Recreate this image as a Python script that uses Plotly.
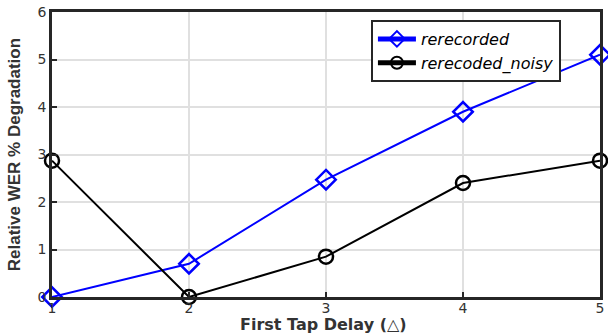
import plotly.graph_objects as go

delays = [1, 2, 3, 4, 5]
rerecorded = [0.0, 0.7, 2.47, 3.9, 5.1]
rerecoded_noisy = [2.87, 0.0, 0.85, 2.4, 2.87]
y_ticks = [0, 1, 2, 3, 4, 5, 6]
x_title = "First Tap Delay (△)"
y_title = "Relative WER % Degradation"

fig = go.Figure()
fig.add_trace(go.Scatter(
    x=delays, y=rerecorded, name="rerecorded", mode="lines+markers",
    line=dict(color="#0000ff", width=2),
    marker=dict(symbol="diamond-open", size=15, color="#0000ff", line=dict(width=2.5)),
    cliponaxis=False))
fig.add_trace(go.Scatter(
    x=delays, y=rerecoded_noisy, name="rerecoded_noisy", mode="lines+markers",
    line=dict(color="black", width=2),
    marker=dict(symbol="circle-open", size=14, color="black", line=dict(width=2.5)),
    cliponaxis=False))

axis_common = dict(showline=True, linecolor="#262626", linewidth=2.5, mirror=True,
                   showgrid=True, gridcolor="#e0e0e0", gridwidth=1.5,
                   ticks="inside", ticklen=5, tickcolor="#262626", tickwidth=2,
                   zeroline=False, automargin=False,
                   tickfont=dict(family="DejaVu Sans", size=14, color="#333333"))

fig.update_layout(
    width=608, height=334,
    margin=dict(l=52, r=8, t=12, b=37),
    paper_bgcolor="white", plot_bgcolor="white",
    showlegend=True,
    legend=dict(x=0.582, y=0.972, xanchor="left", yanchor="top",
                bordercolor="#262626", borderwidth=2, bgcolor="white",
                font=dict(family="DejaVu Sans", size=16, color="black", style="italic"),
                itemsizing="constant", tracegroupgap=0, itemwidth=38),
    annotations=[
        dict(text="<b>" + x_title + "</b>", xref="paper", yref="paper",
             x=0.495, y=-0.095, xanchor="center", yanchor="middle", showarrow=False,
             font=dict(family="DejaVu Sans", size=16, color="#333333")),
        dict(text="<b>" + y_title + "</b>", xref="paper", yref="paper",
             x=-0.068, y=0.5, xanchor="center", yanchor="middle", showarrow=False,
             textangle=-90,
             font=dict(family="Liberation Sans", size=17, color="#333333")),
    ],
)
fig.update_xaxes(range=[1, 5], tickvals=delays, ticktext=[str(v) for v in delays],
                 ticklabelstandoff=-4, **axis_common)
fig.update_yaxes(range=[0, 6], tickvals=y_ticks, **axis_common)

fig.write_html("out.html", config={"displayModeBar": False},
               post_script="document.body.style.margin='0px';")
